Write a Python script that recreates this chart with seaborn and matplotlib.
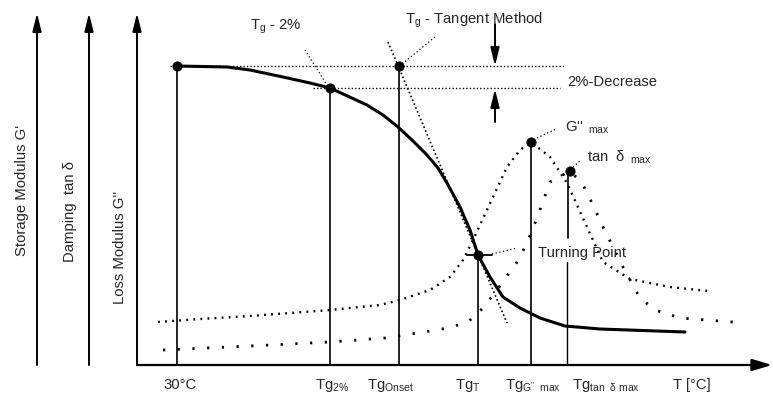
import matplotlib
matplotlib.use("Agg")
import matplotlib.pyplot as plt
import seaborn as sns

sns.set_theme(style="white")
plt.rcParams['font.family'] = ['Liberation Sans', 'DejaVu Sans']
plt.rcParams['mathtext.fontset'] = 'custom'
plt.rcParams['mathtext.rm'] = 'Liberation Sans'
plt.rcParams['mathtext.it'] = 'Liberation Sans'

# ---- data (schematic coordinates: x = temperature position, y = level from top) ----
storage_x = [177, 227, 250, 283, 310, 330, 367, 383, 398, 413, 427, 438, 447, 460, 470, 478, 490, 503, 520, 540, 565, 600, 685]
storage_y = [66, 67, 70, 77, 83, 88, 105, 115, 127, 141, 155, 168, 183, 207, 230, 255, 277, 297, 308, 318, 326, 329, 332]

loss_x = [158, 200, 250, 330, 380, 400, 430, 450, 463, 472, 480, 493, 507, 520, 531, 550, 567, 587, 603, 630, 670, 708]
loss_y = [322, 319, 316, 310, 305, 300, 290, 277, 260, 242, 225, 197, 167, 150, 142, 157, 183, 227, 262, 279, 287, 291]

tand_x = [163, 250, 330, 385, 417, 448, 468, 483, 497, 517, 527, 537, 550, 570, 582, 593, 603, 623, 640, 655, 680, 745]
tand_y = [350, 346, 342, 338, 333, 328, 322, 308, 290, 262, 243, 218, 182, 171, 183, 205, 227, 267, 298, 310, 318, 323]

# characteristic points
pt_x = [177, 330, 399, 478, 531, 570]
pt_y = [66, 88, 66, 255, 142, 171]

tangent_x = [388, 507]
tangent_y = [42, 323]

axis_base = 365
left_axes_x = [37, 89, 137]
left_axes_labels = ["Storage Modulus G'", "Damping  tan δ", "Loss Modulus G''"]
left_label_x = [22, 70, 120]
left_label_y = [190, 212, 247]

bottom_labels = ["30°C", r"Tg$_{\mathregular{2\%}}$", r"Tg$_{\mathregular{Onset}}$", r"Tg$_{\mathregular{T}}$",
                 r"Tg$_{\mathregular{G''\ \ max}}$", r"Tg$_{\mathregular{tan\ \ \delta\ max}}$", "T [°C]"]
bottom_label_x = [163, 315, 367, 455, 505, 572, 673]

fig = plt.figure(figsize=(7.73, 3.96), dpi=100)
ax = fig.add_axes([0, 0, 1, 1])
ax.set_xlim(0, 773)
ax.set_ylim(396, 0)
ax.axis('off')

k = 'black'

# curves
sns.lineplot(x=storage_x, y=storage_y, sort=False, estimator=None, color=k, lw=2.2, ax=ax)
ax.lines[-1].set_solid_joinstyle('round')
sns.lineplot(x=loss_x, y=loss_y, sort=False, estimator=None, color=k, lw=1.7, ax=ax)
ax.lines[-1].set_linestyle((0, (0.8, 2.2)))
sns.lineplot(x=tand_x, y=tand_y, sort=False, estimator=None, color=k, lw=2.0, ax=ax)
ax.lines[-1].set_linestyle((0, (0.8, 4.5)))
sns.lineplot(x=tangent_x, y=tangent_y, sort=False, estimator=None, color=k, lw=1.2, ax=ax)
ax.lines[-1].set_linestyle((0, (1, 1.5)))

# horizontal reference lines (dotted)
ax.plot([170, 565], [pt_y[0], pt_y[0]], color=k, lw=1.0, ls=(0, (1, 1.5)))
ax.plot([313, 560], [pt_y[1], pt_y[1]], color=k, lw=1.0, ls=(0, (1, 1.5)))

# vertical drop lines
for xv, yv in zip(pt_x[:5], pt_y[:5]):
    ax.plot([xv, xv], [yv, axis_base], color=k, lw=1.2)
ax.plot([568, 568], [pt_y[5], 238], color=k, lw=1.2)
ax.plot([567, 567], [262, axis_base], color=k, lw=1.0)

# turning point tick
ax.plot([467, 492], [pt_y[3], pt_y[3]], color=k, lw=1.3)

# markers
sns.scatterplot(x=pt_x, y=pt_y, color=k, s=45, edgecolor=k, zorder=5, ax=ax)

# leader lines
lead = dict(color=k, lw=0.9, ls=(0, (1, 2)))
ax.plot([305, 327], [50, 85], **lead)
ax.plot([435, 402], [37, 64], **lead)
ax.plot([537, 556], [138, 129], **lead)
ax.plot([573, 581], [167, 160], **lead)
ax.plot([492, 517], [254, 248], **lead)

# axes arrows
arr = dict(arrowstyle='-|>,head_length=0.9,head_width=0.22', color=k, lw=1.4, shrinkA=0, shrinkB=0)
for xa in left_axes_x:
    ax.annotate('', xy=(xa, 13), xytext=(xa, axis_base), arrowprops=arr)
ax.annotate('', xy=(772, axis_base), xytext=(137, axis_base),
            arrowprops=dict(arrowstyle='-|>,head_length=1.0,head_width=0.3', color=k, lw=1.6, shrinkA=0, shrinkB=0))

# 2% decrease arrows
ax.annotate('', xy=(495, 66), xytext=(495, 24), arrowprops=arr)
ax.annotate('', xy=(495, 89), xytext=(495, 122), arrowprops=arr)

# texts
fs = 10.7
for lx, ly, lt in zip(left_label_x, left_label_y, left_axes_labels):
    ax.text(lx, ly, lt, rotation=90, ha='center', va='center', fontsize=fs)

ax.text(250, 27, r"T$_{\mathregular{g}}$ - 2%", fontsize=fs, va='center', ha='left')
ax.text(405, 20, r"T$_{\mathregular{g}}$ - Tangent Method", fontsize=fs, va='center', ha='left')
ax.text(567, 82, "2%-Decrease", fontsize=fs, va='center', ha='left')
ax.text(565, 128, r"G''$_{\mathregular{\ \ max}}$", fontsize=fs, va='center', ha='left')
ax.text(587, 157, r"tan  δ$_{\mathregular{\ \ max}}$", fontsize=fs, va='center', ha='left')
ax.text(538, 253, "Turning Point", fontsize=fs, va='center', ha='left')

for bx, bt in zip(bottom_label_x, bottom_labels):
    ax.text(bx, 385, bt, fontsize=fs, va='center', ha='left')

fig.savefig("out.png", dpi=100)
